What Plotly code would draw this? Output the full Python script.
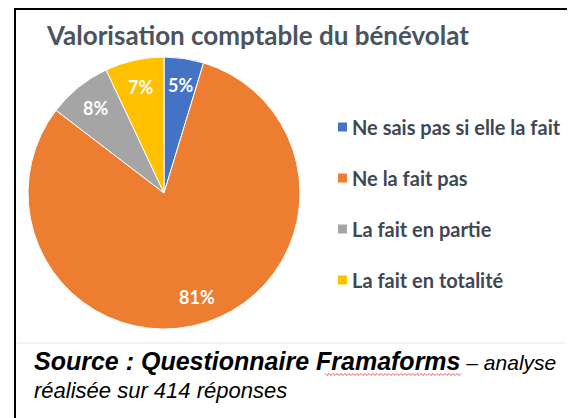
import math
import plotly.graph_objects as go

categories = ["Ne sais pas si elle la fait", "Ne la fait pas", "La fait en partie", "La fait en totalité"]
values = [4.7, 80.7, 7.6, 7.0]   # shares in %
colors = ["#4472C4", "#ED7D31", "#A5A5A5", "#FFC000"]

title_text = "Valorisation comptable du bénévolat"
source_bold = "Source : Questionnaire Framaforms"
source_rest = " – analyse"
source_line2 = "réalisée sur 414 réponses"

# page offset compensation (browser body margin of 8px)
OFF = 8
W, H = 575 - OFF, 418 - OFF


def px(x):
    return (x - OFF) / W


def py(y):
    return 1 - (y - OFF) / H


# pie geometry in reference pixel coordinates
CX, CY, R = 164, 193, 136

fig = go.Figure()
fig.add_trace(go.Pie(
    labels=categories,
    values=values,
    sort=False,
    direction="clockwise",
    rotation=0,
    marker=dict(colors=colors, line=dict(color="white", width=1)),
    textinfo="none",
    showlegend=False,
    hoverinfo="label+percent",
    domain=dict(x=[px(CX - R), px(CX + R)], y=[py(CY + R), py(CY - R)]),
))

shapes = [
    dict(type="line", xref="paper", yref="paper", x0=px(15), x1=1, y0=py(9), y1=py(9),
         line=dict(color="black", width=2)),
    dict(type="line", xref="paper", yref="paper", x0=px(15), x1=px(15), y0=0, y1=py(8),
         line=dict(color="black", width=2)),
    dict(type="line", xref="paper", yref="paper", x0=px(17), x1=px(565), y0=py(343), y1=py(343),
         line=dict(color="#E6E6E6", width=1)),
]

annotations = [
    dict(text=title_text, x=px(44), y=py(35), xref="paper", yref="paper",
         xanchor="left", yanchor="middle", showarrow=False,
         font=dict(family="Lato", size=26, color="#4A5360", weight="bold")),
    dict(text=f"<i><b>{source_bold}</b></i><i><span style='font-size:21px'>{source_rest}</span></i>",
         x=px(32), y=py(361), xref="paper", yref="paper",
         xanchor="left", yanchor="middle", showarrow=False,
         font=dict(family="Liberation Sans", size=25, color="black")),
    dict(text=f"<i>{source_line2}</i>", x=px(32), y=py(390), xref="paper", yref="paper",
         xanchor="left", yanchor="middle", showarrow=False,
         font=dict(family="Liberation Sans", size=22, color="black")),
]

# slice labels placed along each slice bisector (derived from the values)
total = sum(values)
cum = 0
for v in values:
    mid = (cum + v / 2) / total * 2 * math.pi
    cum += v
    lx = CX + 0.8 * R * math.sin(mid)
    ly = CY - 0.8 * R * math.cos(mid)
    annotations.append(dict(text=f"{round(v / total * 100)}%", x=px(lx), y=py(ly),
                            xref="paper", yref="paper",
                            xanchor="center", yanchor="middle", showarrow=False,
                            font=dict(family="Lato", size=18, color="white", weight="bold")))

# legend drawn from the category list
leg_y0, leg_step = 127, 51
for i, (cat, col) in enumerate(zip(categories, colors)):
    yy = leg_y0 + i * leg_step
    shapes.append(dict(type="rect", xref="paper", yref="paper",
                       x0=px(338), x1=px(347), y0=py(yy + 4.5), y1=py(yy - 4.5),
                       fillcolor=col, line=dict(width=0)))
    annotations.append(dict(text=cat, x=px(350), y=py(yy), xref="paper", yref="paper",
                            xanchor="left", yanchor="middle", showarrow=False,
                            font=dict(family="Lato", size=20, color="#3F4753", weight="bold")))

# red wavy spell-check underline under "Framaforms"
zx0, zx1, zy = 325, 462, 374
pts = []
xx, k = zx0, 0
while xx <= zx1:
    pts.append(f"{px(xx):.5f},{py(zy + (1.5 if k % 2 else -0.5)):.5f}")
    xx += 2
    k += 1
shapes.append(dict(type="path", xref="paper", yref="paper", path="M " + " L ".join(pts),
                   line=dict(color="#E03030", width=0.8)))

fig.update_layout(
    width=W, height=H,
    margin=dict(l=0, r=0, t=0, b=0),
    paper_bgcolor="white",
    plot_bgcolor="white",
    shapes=shapes,
    annotations=annotations,
)

fig.write_html("out.html")
